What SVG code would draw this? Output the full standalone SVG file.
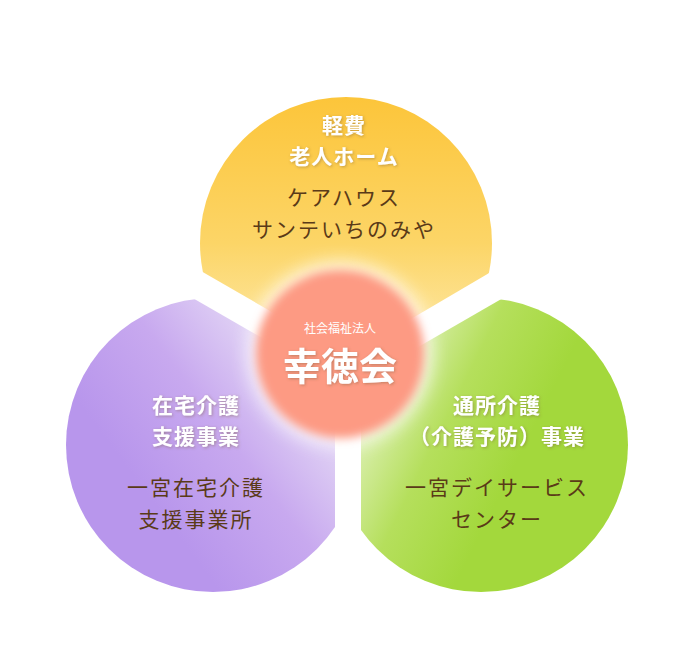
<svg xmlns="http://www.w3.org/2000/svg" width="690" height="652" viewBox="0 0 690 652">
<style>
text{font-family:"Noto Sans CJK JP","Noto Sans CJK SC",sans-serif;text-anchor:middle}
.h{fill:#fff;font-weight:bold;font-size:21px;letter-spacing:1px;filter:url(#sh)}
.b{fill:#5a3a18;font-size:21px;letter-spacing:2px}
</style>
<defs>
<filter id="sh" x="-20%" y="-40%" width="140%" height="180%"><feDropShadow dx="1" dy="1" stdDeviation="1.5" flood-color="#7a5a30" flood-opacity="0.45"/></filter>
<filter id="bl" x="-30%" y="-30%" width="160%" height="160%"><feGaussianBlur stdDeviation="5"/></filter>
<filter id="bl2" x="-30%" y="-30%" width="160%" height="160%"><feGaussianBlur stdDeviation="9"/></filter>
<linearGradient id="gy" x1="0" y1="0" x2="0" y2="1"><stop offset="0" stop-color="#fcc53a"/><stop offset="0.5" stop-color="#fcd567"/><stop offset="1" stop-color="#fef0c0"/></linearGradient>
<linearGradient id="gp" x1="0.9" y1="0.25" x2="0.3" y2="0.7"><stop offset="0" stop-color="#ebe4f7"/><stop offset="0.55" stop-color="#c8a9ef"/><stop offset="1" stop-color="#b896ec"/></linearGradient>
<linearGradient id="gg" x1="0.1" y1="0.35" x2="0.6" y2="0.6"><stop offset="0" stop-color="#e1f2bd"/><stop offset="0.5" stop-color="#b5df5c"/><stop offset="1" stop-color="#a3d83c"/></linearGradient>
<clipPath id="ct"><polygon points="0,0 690,0 690,155 348,356 0,155"/></clipPath>
<clipPath id="cl"><polygon points="0,187 335,380 335,652 0,652"/></clipPath>
<clipPath id="cr"><polygon points="361,380 690,190 690,652 361,652"/></clipPath>
</defs>
<g id="top"><circle cx="346" cy="243" r="146" fill="url(#gy)" clip-path="url(#ct)"/>
<text class="h" x="344" y="133">軽費</text><text class="h" x="344" y="164">老人ホーム</text>
<text class="b" x="344" y="205">ケアハウス</text><text class="b" x="344" y="237">サンテいちのみや</text></g>
<g id="left"><circle cx="213" cy="445" r="147" fill="url(#gp)" clip-path="url(#cl)"/>
<text class="h" x="196" y="413">在宅介護</text><text class="h" x="196" y="444">支援事業</text>
<text class="b" x="196" y="495">一宮在宅介護</text><text class="b" x="196" y="527">支援事業所</text></g>
<g id="right"><circle cx="481" cy="445" r="147" fill="url(#gg)" clip-path="url(#cr)"/>
<text class="h" x="497" y="413">通所介護</text><text class="h" x="497" y="444">（介護予防）事業</text>
<text class="b" x="497" y="495">一宮デイサービス</text><text class="b" x="497" y="527">センター</text></g>
<g id="center"><circle cx="340" cy="354" r="92" fill="#fff" opacity="0.8" filter="url(#bl2)"/>
<circle cx="340" cy="354" r="84" fill="#fd9a83" filter="url(#bl)"/>
<text x="340" y="333" fill="#fff" font-size="12">社会福祉法人</text>
<text x="340" y="380" fill="#fff" font-size="38" font-weight="bold" filter="url(#sh)">幸徳会</text></g>
<g id="connectors"/>
</svg>
